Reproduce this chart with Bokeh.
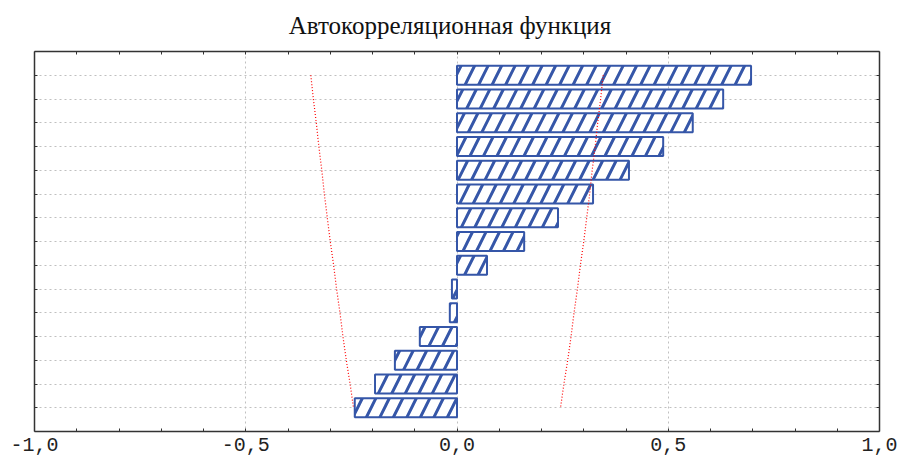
from bokeh.plotting import figure
from bokeh.models import ColumnDataSource, Range1d, FixedTicker, LinearAxis
from bokeh.embed import file_html
from bokeh.resources import INLINE

# ---- data ----
lags = [1, 2, 3, 4, 5, 6, 7, 8, 9, 10, 11, 12, 13, 14, 15]
acf = [0.696, 0.630, 0.558, 0.488, 0.407, 0.322, 0.239, 0.159, 0.071,
       -0.012, -0.017, -0.088, -0.147, -0.194, -0.242]
conf_limit = [0.346, 0.340, 0.333, 0.327, 0.320, 0.314, 0.307, 0.300, 0.292,
              0.285, 0.277, 0.270, 0.262, 0.253, 0.245]
x_ticks = [-1.0, -0.5, 0.0, 0.5, 1.0]
x_tick_labels = ["-1,0", "-0,5", "0,0", "0,5", "1,0"]
x_minor = [-0.9, -0.8, -0.7, -0.6, -0.4, -0.3, -0.2, -0.1,
           0.1, 0.2, 0.3, 0.4, 0.6, 0.7, 0.8, 0.9]
title_text = "Автокорреляционная функция"

src = ColumnDataSource(dict(lag=lags, acf=acf,
                            upper=conf_limit,
                            lower=[-c for c in conf_limit]))

p = figure(width=898, height=457, output_backend="svg", toolbar_location=None,
           x_range=Range1d(-1, 1), y_range=Range1d(16, 0),
           x_axis_location="below", y_axis_location="left",
           min_border_left=34, min_border_right=19, min_border_top=51,
           min_border_bottom=26)

p.title.text = title_text
p.title.align = "center"
p.title.text_font = "Liberation Serif"
p.title.text_font_size = "25px"
p.title.text_font_style = "normal"
p.title.text_color = "#111111"
try:
    p.title.padding = dict(left=0, right=14, top=0, bottom=8)
except Exception:
    pass

p.outline_line_color = None
p.background_fill_color = "white"
p.border_fill_color = "white"

# bars
p.hbar(y="lag", left=0, right="acf", height=0.8, source=src,
       fill_color="white", line_color="#3556a8", line_width=2,
       hatch_pattern="/", hatch_color="#3556a8", hatch_scale=27, hatch_weight=3)

# confidence limits
p.line(x="upper", y="lag", source=src, line_color="red", line_dash="1 2", line_width=1.2)
p.line(x="lower", y="lag", source=src, line_color="red", line_dash="1 2", line_width=1.2)

# grids
p.xgrid.ticker = FixedTicker(ticks=[-0.5, 0.0, 0.5])
p.xgrid.grid_line_color = "#c0c0c0"
p.xgrid.grid_line_dash = "2 3"
p.ygrid.ticker = FixedTicker(ticks=lags)
p.ygrid.grid_line_color = "#c0c0c0"
p.ygrid.grid_line_dash = "2 3"

def style_axis(ax, labels=True):
    ax.axis_line_color = "#333333"
    ax.axis_line_width = 1.5
    ax.major_tick_in = 3
    ax.major_tick_out = 0
    ax.minor_tick_in = 3
    ax.minor_tick_out = 0
    ax.major_tick_line_color = "#333333"
    ax.minor_tick_line_color = "#333333"
    if not labels:
        ax.major_label_text_font_size = "0px"
        ax.major_label_standoff = 0

# bottom axis
xb = p.xaxis[0]
xb.ticker = FixedTicker(ticks=x_ticks, minor_ticks=x_minor)
xb.major_label_overrides = {t: l for t, l in zip(x_ticks, x_tick_labels)}
xb.major_label_text_font = "Liberation Mono"
xb.major_label_text_font_size = "20px"
xb.major_label_text_color = "#222222"
xb.major_label_standoff = 6
style_axis(xb)

# left axis
yl = p.yaxis[0]
yl.ticker = FixedTicker(ticks=lags)
style_axis(yl, labels=False)

# top axis
xt = LinearAxis(ticker=FixedTicker(ticks=x_ticks, minor_ticks=x_minor))
style_axis(xt, labels=False)
p.add_layout(xt, "above")

# right axis
yr = LinearAxis(ticker=FixedTicker(ticks=lags))
style_axis(yr, labels=False)
p.add_layout(yr, "right")

open("out.html", "w").write(file_html(p, INLINE))
